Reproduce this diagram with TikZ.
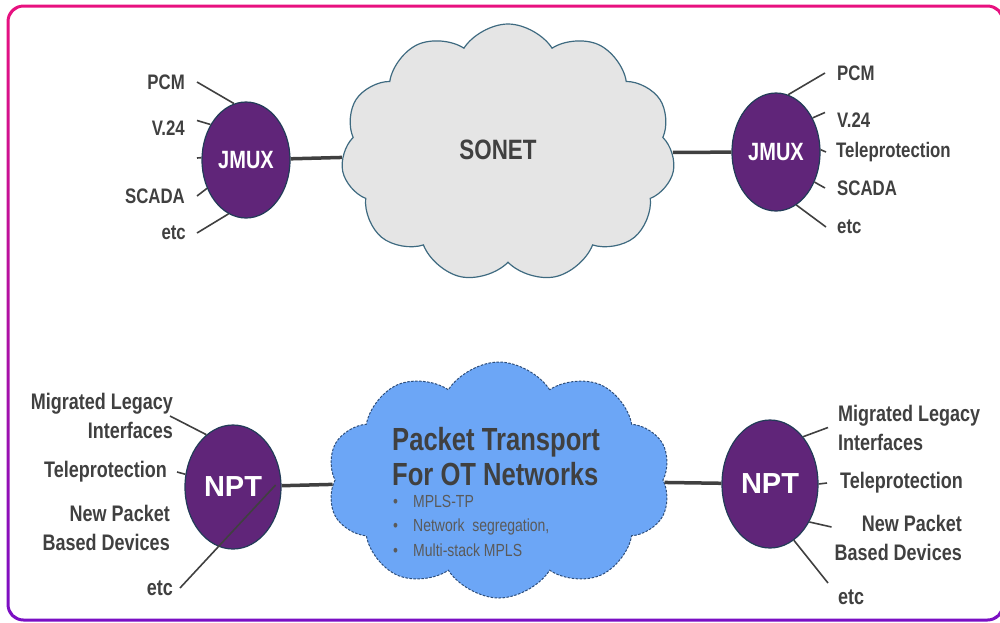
\documentclass[tikz,border=0pt]{standalone}
\usepackage{fontspec}
\usepackage{tikz}
\usetikzlibrary{shapes.geometric,shapes.symbols}
\newfontfamily\narrowfont[FakeStretch=0.8]{Liberation Sans}
\newfontfamily\plainfont{Liberation Sans}
\definecolor{framepink}{RGB}{232,17,127}
\definecolor{framepurple}{RGB}{122,15,196}
\definecolor{txtgray}{RGB}{64,64,64}
\definecolor{bulgray}{RGB}{90,90,90}
\definecolor{muxpurple}{RGB}{96,37,121}
\definecolor{muxedge}{RGB}{34,60,88}
\definecolor{cloudgray}{RGB}{229,229,229}
\definecolor{cloudedge}{RGB}{62,106,128}
\definecolor{ptnblue}{RGB}{108,166,246}
\definecolor{ptnedge}{RGB}{46,78,122}
\begin{document}
\begin{tikzpicture}[x=1pt,y=-1pt,
  lab/.style={inner sep=0pt,text=txtgray,font=\narrowfont\bfseries\fontsize{21}{29}\selectfont},
  biglab/.style={lab,font=\narrowfont\bfseries\fontsize{22.5}{29}\selectfont},
  mux/.style={ellipse,draw=muxedge,line width=1.2pt,fill=muxpurple,inner sep=0pt,text=white},
  link/.style={line width=3.5pt,draw=txtgray},
  spoke/.style={line width=1.6pt,draw=txtgray},
  netcloud/.style={cloud,cloud puffs=11,cloud puff arc=115,cloud ignores aspect,inner sep=0pt}]
\useasboundingbox (0,0) rectangle (1000,622);
\path[top color=framepink,bottom color=framepurple,even odd rule]
  [rounded corners=17pt] (6.5,4.5) rectangle (1004.5,621.5)
  [rounded corners=14pt] (9.5,7.5) rectangle (1001.5,618.5);

\node[netcloud,minimum width=334pt,minimum height=258pt,fill=cloudgray,draw=cloudedge,line width=1.2pt] (sonet) at (508,153) {};
\node[netcloud,cloud puffs=10,minimum width=344pt,minimum height=236pt,fill=ptnblue,draw=ptnedge,line width=1pt,dash pattern=on 2.5pt off 1.5pt] (ptn) at (499,480) {};
\node[text=txtgray,font=\narrowfont\bfseries\fontsize{28}{32}\selectfont] (sonetlbl) at (498,150) {SONET};
\node[anchor=north west,inner sep=0pt,align=left,text=txtgray,font=\narrowfont\bfseries\fontsize{32}{35}\selectfont] (ptntitle) at (392,427) {Packet Transport\\For OT Networks};
\node[anchor=north west,inner sep=0pt,align=left,text=bulgray,font=\narrowfont\fontsize{17.5}{24.5}\selectfont] (ptnlist) at (393,495)
  {\makebox[20pt][l]{\textbullet}MPLS-TP\\\makebox[20pt][l]{\textbullet}Network\ \ segregation,\\\makebox[20pt][l]{\textbullet}Multi-stack MPLS};

\node[mux,minimum width=88pt,minimum height=116pt,font=\narrowfont\bfseries\fontsize{25}{30}\selectfont] (jmuxL) at (246,160) {JMUX};
\node[mux,minimum width=88pt,minimum height=118pt,font=\narrowfont\bfseries\fontsize{25}{30}\selectfont] (jmuxR) at (776,152) {JMUX};
\node[mux,minimum width=96pt,minimum height=124pt,font=\plainfont\bfseries\fontsize{29}{34}\selectfont] (nptL) at (233,487) {NPT};
\node[mux,minimum width=96pt,minimum height=128pt,font=\plainfont\bfseries\fontsize{29}{34}\selectfont] (nptR) at (770,484) {NPT};

\draw[link] (jmuxL) -- (sonet);
\draw[link] (sonet) -- (jmuxR);
\draw[link] (nptL) -- (ptn);
\draw[link] (ptn) -- (nptR);

\node[lab,anchor=east] (pcmL) at (185,82) {PCM};
\node[lab,anchor=east] (v24L) at (185,128) {V.24};
\coordinate (tpL) at (197,158);
\node[lab,anchor=east] (scadaL) at (185,196) {SCADA};
\node[lab,anchor=east] (etcL) at (186,233) {etc};
\draw[spoke] ([xshift=12pt]pcmL.east) -- (jmuxL.102);
\draw[spoke] ([xshift=12pt]v24L.north east) -- (jmuxL.135);
\draw[spoke] (tpL) -- (jmuxL.177);
\draw[spoke] ([xshift=12pt]scadaL.east) -- (jmuxL.216);
\draw[spoke] ([xshift=11pt]etcL.east) -- (jmuxL.252);

\node[lab,anchor=west] (pcmR) at (837,73) {PCM};
\node[lab,anchor=west] (v24R) at (837,120) {V.24};
\node[lab,anchor=west] (tpR) at (836,152) {Teleprotection};
\node[lab,anchor=west] (scadaR) at (837,188) {SCADA};
\node[lab,anchor=west] (etcR) at (837,227) {etc};
\draw[spoke] ([xshift=-12pt]pcmR.west) -- (jmuxR.78);
\draw[spoke] ([xshift=-12pt]v24R.north west) -- (jmuxR.43);
\draw[spoke] ([xshift=-10pt]tpR.west) -- (jmuxR.3);
\draw[spoke] ([xshift=-12pt]scadaR.west) -- (jmuxR.322);
\draw[spoke] ([xshift=-11pt]etcR.west) -- (jmuxR.291);

\node[biglab,anchor=east,align=right] (migL) at (173,416) {Migrated Legacy\\Interfaces};
\node[biglab,anchor=east] (tpnL) at (167,472) {Teleprotection};
\node[biglab,anchor=east,align=right] (newL) at (170,527.5) {New Packet\\Based Devices};
\node[biglab,anchor=east] (etcnL) at (173,588) {etc};
\draw[spoke] ([xshift=-3pt]migL.east) -- (nptL.117);
\draw[spoke] ([xshift=10pt]tpnL.east) -- (nptL.165);
\draw[spoke] ([xshift=7pt]etcnL.east) -- ([xshift=-6pt,yshift=2pt]nptL.east);

\node[biglab,anchor=west,align=left] (migR) at (838,427.5) {Migrated Legacy\\Interfaces};
\node[biglab,anchor=west] (tpnR) at (840,483) {Teleprotection};
\node[biglab,anchor=east,align=right] (newR) at (962,538) {New Packet\\Based Devices};
\node[biglab,anchor=west] (etcnR) at (838,597) {etc};
\draw[spoke] ([xshift=-10pt]migR.west) -- (nptR.55);
\draw[spoke] ([xshift=-13pt]tpnR.west) -- (nptR.0);
\draw[spoke] ([xshift=-3pt,yshift=11pt]newR.west) -- (nptR.316);
\draw[spoke] ([xshift=-10pt,yshift=14pt]etcnR.west) -- (nptR.293);
\end{tikzpicture}
\end{document}
